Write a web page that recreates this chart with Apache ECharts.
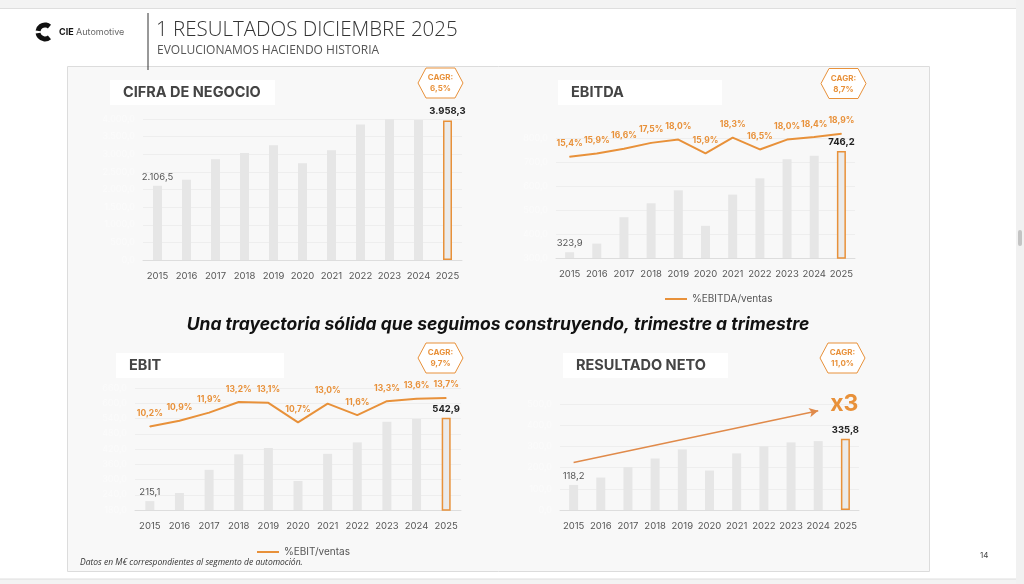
<!DOCTYPE html>
<html>
<head>
<meta charset="utf-8">
<title>Resultados diciembre 2025</title>
<script src="https://cdn.jsdelivr.net/npm/echarts@6/dist/echarts.min.js"></script>
<style>
  html, body { margin: 0; padding: 0; background: #ffffff; }
  #main { width: 1024px; height: 584px; }
</style>
</head>
<body>
<div id="main"></div>
<script>
// datos (M€, segmento automoción)
var years = ['2015', '2016', '2017', '2018', '2019', '2020', '2021', '2022', '2023', '2024', '2025'];
var ventas = [2106.5, 2278, 2857, 3037, 3256, 2743, 3113, 3844, 3990, 3975, 3958.3];
var ebitda = [323.9, 360, 470, 528, 582, 434, 564, 632, 711, 726, 746.2];
var margenEbitda = [15.4, 15.9, 16.6, 17.5, 18.0, 15.9, 18.3, 16.5, 18.0, 18.4, 18.9];
var ebit = [215.1, 247, 338, 399, 424, 294, 401, 446, 527, 538, 542.9];
var margenEbit = [10.2, 10.9, 11.9, 13.2, 13.1, 10.7, 13.0, 11.6, 13.3, 13.6, 13.7];
var neto = [118.2, 153, 202, 243, 286, 186, 267, 300, 319, 325, 335.8];
var cagr = ['6,5%', '8,7%', '9,7%', '11,0%'];
var titulos = ['CIFRA DE NEGOCIO', 'EBITDA', 'EBIT', 'RESULTADO NETO'];

var NARANJA = '#E8913A';
var GRIS_BARRA = '#e6e6e6';
var FONT = 'Inter, "Noto Sans", sans-serif';

function fmtEs(v, d) {
	var s = v.toFixed(d).split('.');
	s[0] = s[0].replace(/\B(?=(\d{3})+(?!\d))/g, '.');
	return s.join(',');
}

// barras: primera y última con etiqueta, la última con borde naranja
function barData(values) {
	var last = values.length - 1;
	return values.map(function (v, i) {
		var item = { value: v, label: { show: false } };
		if (i === 0) {
			item.label = { show: true, color: '#555', fontWeight: 'normal' };
		}
		if (i === last) {
			item.label = { show: true, color: '#222', fontWeight: 'bold' };
			item.itemStyle = { borderColor: NARANJA, borderWidth: 1.5, color: '#ebebeb' };
		}
		return item;
	});
}

function hexPoints(cx, cy, w, h) {
	var a = w / 2, b = h / 2, c = w / 2 - 8;
	return [[cx - a, cy], [cx - c, cy - b], [cx + c, cy - b], [cx + a, cy], [cx + c, cy + b], [cx - c, cy + b]];
}

var grids = [
	{ left: 143, right: 562, top: 119, bottom: 324 },
	{ left: 556, right: 169, top: 138, bottom: 326 },
	{ left: 135, right: 563, top: 388, bottom: 74 },
	{ left: 560, right: 165, top: 404, bottom: 74 }
];

var xAxes = grids.map(function (g, i) {
	return {
		type: 'category', gridIndex: i, data: years,
		axisLine: { lineStyle: { color: '#dddddd' } },
		axisTick: { show: false },
		axisLabel: { color: '#555', fontSize: 9.5, fontFamily: FONT, margin: 11, interval: 0 }
	};
});

function yAxis(gi, min, max, interval, fd) {
	return {
		type: 'value', gridIndex: gi, min: min, max: max, interval: interval,
		axisLine: { show: false }, axisTick: { show: false },
		axisLabel: { color: '#fbfbfb', fontSize: 9, fontFamily: FONT, formatter: function (v) { return fmtEs(v, fd); } },
		splitLine: { lineStyle: { color: '#eeeeee' } }
	};
}

function yAxisPct(gi, max) {
	return {
		type: 'value', gridIndex: gi, min: 0, max: max, position: 'right',
		axisLine: { show: false }, axisTick: { show: false },
		axisLabel: { show: false }, splitLine: { show: false }
	};
}

var yAxes = [
	yAxis(0, 0, 4000, 500, 1),
	yAxis(1, 300, 800, 100, 1),
	yAxis(2, 180, 660, 60, 1),
	yAxis(3, 0, 500, 100, 1),
	yAxisPct(1, 18.24),
	yAxisPct(2, 14.91)
];

var barLabel = {
	position: 'top', distance: 4, fontSize: 9.5, fontFamily: FONT,
	formatter: function (p) { return fmtEs(p.value, 1); }
};

function barSeries(name, values, gi, yi) {
	return {
		name: name, type: 'bar', xAxisIndex: gi, yAxisIndex: yi,
		data: barData(values), barWidth: 9,
		itemStyle: { color: GRIS_BARRA },
		label: barLabel
	};
}

function lineSeries(name, values, gi, yi) {
	return {
		name: name, type: 'line', xAxisIndex: gi, yAxisIndex: yi,
		data: values, clip: false, showSymbol: true, symbol: 'circle', symbolSize: 1, smooth: false,
		lineStyle: { color: NARANJA, width: 2 },
		itemStyle: { color: NARANJA },
		label: {
			show: true, position: 'top', distance: 8, color: NARANJA,
			fontSize: 8.5, fontWeight: 'bold', fontFamily: FONT,
			formatter: function (p) { return fmtEs(p.value, 1) + '%'; }
		},
		z: 3
	};
}

var netoSerie = barSeries('Resultado neto', neto, 3, 3);
netoSerie.markLine = {
	silent: true,
	symbol: ['none', 'arrow'], symbolSize: [7, 9],
	lineStyle: { color: '#E08A4A', width: 1.5, type: 'solid' },
	label: {
		show: true, position: 'end', formatter: 'x3', distance: 4, offset: [8, -6],
		color: NARANJA, fontSize: 23, fontWeight: 'bold', fontFamily: FONT
	},
	data: [[{ coord: [0, 224] }, { coord: [9, 468] }]]
};

// elementos de página
var graphics = [
	{ type: 'rect', shape: { x: 0, y: 0, width: 1024, height: 8 }, style: { fill: '#f3f3f3' } },
	{ type: 'line', shape: { x1: 0, y1: 8.5, x2: 1024, y2: 8.5 }, style: { stroke: '#dedede', lineWidth: 1 } },
	{ type: 'rect', shape: { x: 0, y: 579, width: 1024, height: 5 }, style: { fill: '#f3f3f3' } },
	{ type: 'line', shape: { x1: 0, y1: 579, x2: 1016, y2: 579 }, style: { stroke: '#dedede', lineWidth: 1 } },
	{ type: 'rect', shape: { x: 1016, y: 0, width: 8, height: 584 }, style: { fill: '#f1f1f1' } },
	{ type: 'rect', shape: { x: 1018, y: 230, width: 4, height: 16, r: 2 }, style: { fill: '#c4c4c4' } },
	// logo
	{ type: 'arc', shape: { cx: 45, cy: 32, r: 7, startAngle: Math.PI * 0.28, endAngle: Math.PI * 0.95 }, style: { stroke: '#111', lineWidth: 5, fill: null } },
	{ type: 'arc', shape: { cx: 45, cy: 32, r: 7, startAngle: Math.PI * 1.05, endAngle: Math.PI * 1.72 }, style: { stroke: '#111', lineWidth: 5, fill: null } },
	{ type: 'text', x: 59, y: 32, style: { text: 'CIE', fill: '#111', font: 'bold 9px ' + FONT, textVerticalAlign: 'middle' } },
	{ type: 'text', x: 76, y: 32, style: { text: 'Automotive', fill: '#666', font: '9px ' + FONT, textVerticalAlign: 'middle' } },
	{ type: 'line', shape: { x1: 148, y1: 13, x2: 148, y2: 70 }, style: { stroke: '#333', lineWidth: 1 } },
	{ type: 'text', x: 156, y: 30, style: { text: '1 RESULTADOS DICIEMBRE 2025', fill: '#333', font: '300 20.5px "Open Sans", ' + FONT, textVerticalAlign: 'middle' } },
	{ type: 'text', x: 157, y: 51, style: { text: 'EVOLUCIONAMOS HACIENDO HISTORIA', fill: '#555', font: '12px "Open Sans", ' + FONT, textVerticalAlign: 'middle' } },
	// panel
	{ type: 'rect', shape: { x: 67.5, y: 66.5, width: 862, height: 505 }, style: { fill: '#f8f8f8', stroke: '#dcdcdc', lineWidth: 1 }, z: -10 },
	{ type: 'text', x: 498, y: 325, style: { text: 'Una trayectoria sólida que seguimos construyendo, trimestre a trimestre', fill: '#111', font: 'italic bold 17.5px Inter, "Open Sans", sans-serif', textAlign: 'center', textVerticalAlign: 'middle' } },
	{ type: 'text', x: 80, y: 563, style: { text: 'Datos en M€ correspondientes al segmento de automoción.', fill: '#333', font: 'italic 8.5px "Open Sans", ' + FONT, textVerticalAlign: 'middle' } },
	{ type: 'text', x: 980, y: 556, style: { text: '14', fill: '#444', font: '8px ' + FONT, textVerticalAlign: 'middle' } }
];

var cajas = [
	{ x: 110, y: 80, w: 165, hx: 440.5, hy: 83 },
	{ x: 558, y: 80, w: 164, hx: 843.5, hy: 83.5 },
	{ x: 116, y: 353, w: 168, hx: 440.5, hy: 358 },
	{ x: 563, y: 353, w: 165, hx: 842.5, hy: 358 }
];
cajas.forEach(function (c, i) {
	graphics.push({ type: 'rect', shape: { x: c.x, y: c.y, width: c.w, height: 25 }, style: { fill: '#ffffff' }, z: -5 });
	graphics.push({ type: 'text', x: c.x + 13, y: c.y + 13, style: { text: titulos[i], fill: '#444', font: 'bold 14.5px ' + FONT, textVerticalAlign: 'middle' } });
	graphics.push({ type: 'polygon', shape: { points: hexPoints(c.hx, c.hy, 45, 30) }, style: { fill: '#ffffff', stroke: NARANJA, lineWidth: 1 } });
	graphics.push({ type: 'text', x: c.hx, y: c.hy - 5, style: { text: 'CAGR:', fill: NARANJA, font: 'bold 8px ' + FONT, textAlign: 'center', textVerticalAlign: 'middle' } });
	graphics.push({ type: 'text', x: c.hx, y: c.hy + 6, style: { text: cagr[i], fill: NARANJA, font: 'bold 8px ' + FONT, textAlign: 'center', textVerticalAlign: 'middle' } });
});

var option = {
	backgroundColor: '#ffffff',
	animation: false,
	textStyle: { fontFamily: FONT },
	graphic: graphics,
	grid: grids,
	xAxis: xAxes,
	yAxis: yAxes,
	legend: [
		{
			data: ['%EBITDA/ventas'], left: 660, top: 289, icon: 'rect', itemWidth: 22, itemHeight: 2, itemGap: 4,
			textStyle: { color: '#555', fontSize: 10, fontFamily: FONT }
		},
		{
			data: ['%EBIT/ventas'], left: 252, top: 542, icon: 'rect', itemWidth: 22, itemHeight: 2, itemGap: 4,
			textStyle: { color: '#555', fontSize: 10, fontFamily: FONT }
		}
	],
	series: [
		barSeries('Cifra de negocio', ventas, 0, 0),
		barSeries('EBITDA', ebitda, 1, 1),
		lineSeries('%EBITDA/ventas', margenEbitda, 1, 4),
		barSeries('EBIT', ebit, 2, 2),
		lineSeries('%EBIT/ventas', margenEbit, 2, 5),
		netoSerie
	]
};

var myChart = echarts.init(document.getElementById('main'));
myChart.setOption(option);
</script>
</body>
</html>
